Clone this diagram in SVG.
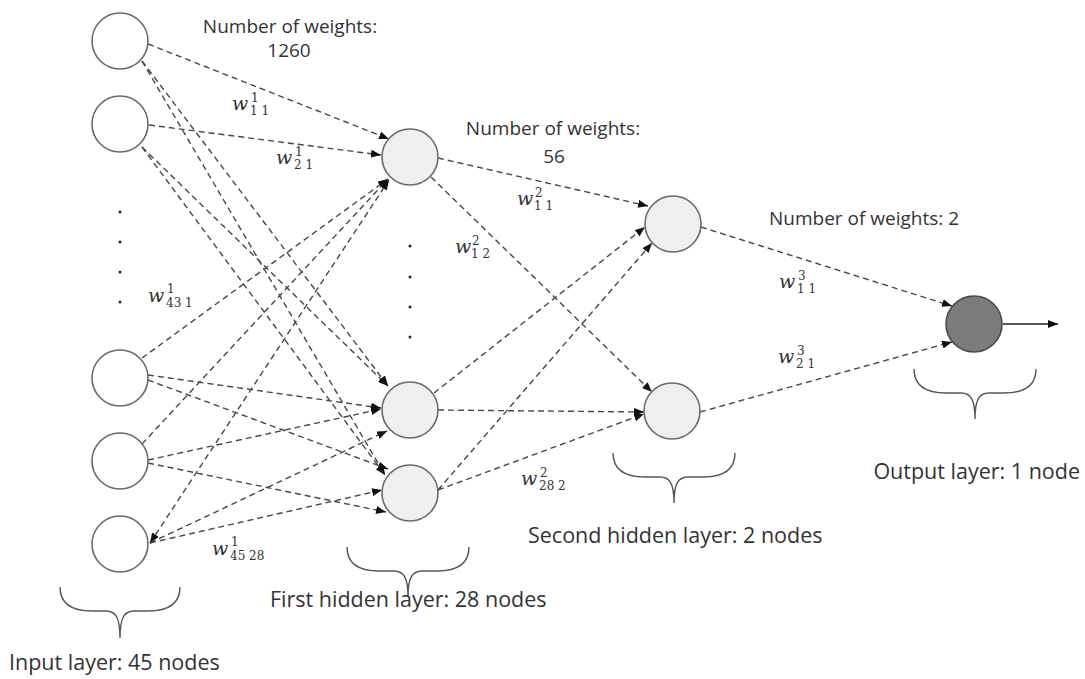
<svg xmlns="http://www.w3.org/2000/svg" width="1085" height="679" viewBox="0 0 1085 679">
<defs>
<marker id="ah" markerWidth="10" markerHeight="8" refX="10" refY="4" orient="auto-start-reverse" markerUnits="userSpaceOnUse">
<path d="M0,0 L10,4 L0,8 z" fill="#111"/>
</marker>
<style>
.in{fill:#fff;stroke:#6a6a6a;stroke-width:1.6}
.hid{fill:#efefef;stroke:#6a6a6a;stroke-width:1.6}
.out{fill:#7b7b7b;stroke:#4a4a4a;stroke-width:1.6}
.dl{stroke:#474747;stroke-width:1.4;stroke-dasharray:6 4;fill:none;marker-end:url(#ah)}
.sl{stroke:#222;stroke-width:1.3;fill:none;marker-end:url(#ah)}
.br{stroke:#555;stroke-width:1.4;fill:none}
.lab{font-family:"Open Sans","DejaVu Sans",sans-serif;fill:#333}
.nw{font-size:19px}
.ly{font-size:21.5px}
.w{font-family:"DejaVu Serif","Liberation Serif",serif;font-style:italic;font-size:19px;fill:#333}
.ix{font-family:"DejaVu Serif","Liberation Serif",serif;font-size:12px;fill:#333}
.dot{fill:#222}
</style>
</defs>
<rect width="1085" height="679" fill="#fff"/>

<g id="connectors">
<line class="dl" x1="148" y1="44" x2="389" y2="139"/>
<line class="dl" x1="142" y1="61" x2="388" y2="386"/>
<line class="dl" x1="142" y1="61" x2="385" y2="475"/>
<line class="dl" x1="149" y1="125" x2="381" y2="155"/>
<line class="dl" x1="142" y1="147" x2="388" y2="386"/>
<line class="dl" x1="142" y1="147" x2="385" y2="475"/>
<line class="dl" x1="142" y1="358" x2="388" y2="179"/>
<line class="dl" x1="148" y1="375" x2="381" y2="408"/>
<line class="dl" x1="148" y1="380" x2="388" y2="469"/>
<line class="dl" x1="142" y1="444" x2="388" y2="179"/>
<line class="dl" x1="148" y1="460" x2="381" y2="409"/>
<line class="dl" x1="148" y1="463" x2="386" y2="512"/>
<line class="dl" x1="150" y1="543" x2="389" y2="180" marker-start="url(#ah)"/>
<line class="dl" x1="150" y1="543" x2="387" y2="431"/>
<line class="dl" x1="150" y1="543" x2="382" y2="490"/>
<line class="dl" x1="438" y1="158" x2="648" y2="206"/>
<line class="dl" x1="431" y1="177" x2="652" y2="392"/>
<line class="dl" x1="434" y1="393" x2="645" y2="227"/>
<line class="dl" x1="438" y1="410" x2="644" y2="412"/>
<line class="dl" x1="438" y1="490" x2="652" y2="243"/>
<line class="dl" x1="438" y1="490" x2="644" y2="414"/>
<line class="dl" x1="701" y1="227" x2="952" y2="306"/>
<line class="dl" x1="700" y1="412" x2="952" y2="342"/>
<line class="sl" x1="1003" y1="324" x2="1058" y2="324"/>
</g>

<g id="input-1"><circle class="in" cx="120" cy="41" r="28"/></g>
<g id="input-2"><circle class="in" cx="120" cy="124" r="28"/></g>
<g id="input-dots">
<circle class="dot" cx="120" cy="212" r="1.5"/>
<circle class="dot" cx="120" cy="242" r="1.5"/>
<circle class="dot" cx="120" cy="272" r="1.5"/>
<circle class="dot" cx="120" cy="302" r="1.5"/>
</g>
<g id="input-43"><circle class="in" cx="120" cy="378" r="28"/></g>
<g id="input-44"><circle class="in" cx="120" cy="461" r="28"/></g>
<g id="input-45"><circle class="in" cx="120" cy="544" r="28"/></g>

<g id="hidden1-1"><circle class="hid" cx="410" cy="157" r="28"/></g>
<g id="hidden1-dots">
<circle class="dot" cx="410" cy="246" r="1.5"/>
<circle class="dot" cx="410" cy="277" r="1.5"/>
<circle class="dot" cx="410" cy="307" r="1.5"/>
<circle class="dot" cx="410" cy="337" r="1.5"/>
</g>
<g id="hidden1-27"><circle class="hid" cx="410" cy="410" r="28"/></g>
<g id="hidden1-28"><circle class="hid" cx="410" cy="493" r="28"/></g>

<g id="hidden2-1"><circle class="hid" cx="673" cy="224" r="28"/></g>
<g id="hidden2-2"><circle class="hid" cx="672" cy="411" r="28"/></g>

<g id="output"><circle class="out" cx="974" cy="324" r="28"/></g>

<g id="braces">
<path class="br" d="M60,587 C60,604 72,611 92,611 L106,611 C116,611 120,618 120,638 M180,587 C180,604 168,611 148,611 L134,611 C124,611 120,618 120,638"/>
<path class="br" d="M347,547 C347,564 359,571 379,571 L394,571 C404,571 408,578 408,597 M469,547 C469,564 457,571 437,571 L422,571 C412,571 408,578 408,597"/>
<path class="br" d="M613,453 C613,470 625,477 645,477 L660,477 C670,477 674,484 674,503 M735,453 C735,470 723,477 703,477 L688,477 C678,477 674,484 674,503"/>
<path class="br" d="M914,369 C914,386 926,393 946,393 L961,393 C971,393 975,400 975,419 M1036,369 C1036,386 1024,393 1004,393 L989,393 C979,393 975,400 975,419"/>
</g>

<g id="labels">
<text class="lab nw" x="290" y="33" text-anchor="middle">Number of weights:</text>
<text class="lab nw" x="289" y="57" text-anchor="middle">1260</text>
<text class="lab nw" x="553" y="135" text-anchor="middle">Number of weights:</text>
<text class="lab nw" x="554" y="163" text-anchor="middle">56</text>
<text class="lab nw" x="769" y="225">Number of weights: 2</text>
<text class="lab ly" x="9" y="670">Input layer: 45 nodes</text>
<text class="lab ly" x="270" y="607">First hidden layer: 28 nodes</text>
<text class="lab ly" x="528" y="543">Second hidden layer: 2 nodes</text>
<text class="lab ly" x="1080" y="479" text-anchor="end">Output layer: 1 node</text>
</g>

<g id="weight-labels">
<text class="w" x="232" y="110">w</text><text class="ix" x="251" y="102">1</text><text class="ix" x="250" y="115">1 1</text>
<text class="w" x="276" y="164">w</text><text class="ix" x="295" y="156">1</text><text class="ix" x="294" y="169">2 1</text>
<text class="w" x="148" y="302">w</text><text class="ix" x="167" y="293">1</text><text class="ix" x="166" y="307">43 1</text>
<text class="w" x="212" y="555">w</text><text class="ix" x="231" y="546">1</text><text class="ix" x="230" y="560">45 28</text>
<text class="w" x="517" y="205">w</text><text class="ix" x="535" y="197">2</text><text class="ix" x="534" y="210">1 1</text>
<text class="w" x="455" y="253">w</text><text class="ix" x="472" y="245">2</text><text class="ix" x="471" y="258">1 2</text>
<text class="w" x="521" y="485">w</text><text class="ix" x="540" y="477">2</text><text class="ix" x="539" y="490">28 2</text>
<text class="w" x="779" y="288">w</text><text class="ix" x="798" y="280">3</text><text class="ix" x="797" y="293">1 1</text>
<text class="w" x="778" y="363">w</text><text class="ix" x="797" y="355">3</text><text class="ix" x="796" y="368">2 1</text>
</g>
</svg>
